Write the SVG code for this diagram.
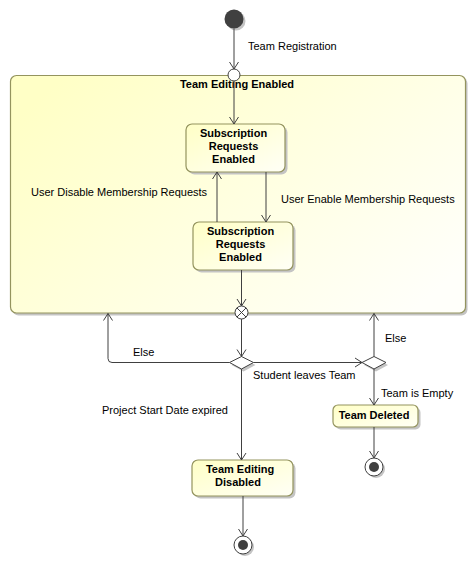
<svg xmlns="http://www.w3.org/2000/svg" width="475" height="565" viewBox="0 0 475 565">
<defs>
<linearGradient id="gc" x1="0" y1="0.2" x2="1" y2="0.8">
<stop offset="0" stop-color="#FFFFC6"/>
<stop offset="1" stop-color="#FFFFFA"/>
</linearGradient>
<linearGradient id="gs" x1="0" y1="0" x2="1" y2="1">
<stop offset="0" stop-color="#FFFFC6"/>
<stop offset="1" stop-color="#FFFFF6"/>
</linearGradient>
<marker id="arr" markerUnits="userSpaceOnUse" markerWidth="12" markerHeight="12" viewBox="-9 -6 12 12" refX="0" refY="0" orient="auto">
<path d="M-7,-4.5 L0,0 L-7,4.5" fill="none" stroke="#404040" stroke-width="1"/>
</marker>
</defs>
<style>
.st{fill:url(#gs);stroke:#94945E;stroke-width:1.2}
.sh{fill:#c4c4c4}
.t{font-family:"Liberation Sans",Arial,sans-serif;font-size:11px;fill:#000}
.b{font-family:"Liberation Sans",Arial,sans-serif;font-size:11px;font-weight:bold;fill:#000;text-anchor:middle}
.c{fill:none;stroke:#404040;stroke-width:1}
.pn{fill:#fff;stroke:#404040;stroke-width:1}
</style>

<g id="team-editing-enabled">
<rect class="sh" x="12.5" y="77.5" width="455" height="238" rx="6"/>
<rect x="10.5" y="75.5" width="455" height="237.5" rx="6" fill="url(#gc)" stroke="#94945E" stroke-width="1.2"/>
<text class="b" x="237" y="88">Team Editing Enabled</text>
</g>

<g id="initial">
<circle cx="236" cy="21" r="9.5" fill="#c4c4c4"/>
<circle cx="234" cy="19" r="9.5" fill="#404040"/>
</g>

<g id="entry">
<circle class="pn" cx="234" cy="75" r="6"/>
</g>

<g id="sub-enabled-1">
<rect class="sh" x="188.5" y="126.5" width="99" height="48" rx="6"/>
<rect class="st" x="186" y="124" width="99" height="48" rx="6"/>
<text class="b" x="233.5" y="137">Subscription</text>
<text class="b" x="233.5" y="150">Requests</text>
<text class="b" x="233.5" y="163">Enabled</text>
</g>

<g id="sub-enabled-2">
<rect class="sh" x="195.5" y="224.5" width="100" height="48" rx="6"/>
<rect class="st" x="193" y="222" width="100" height="48" rx="6"/>
<text class="b" x="240.5" y="235">Subscription</text>
<text class="b" x="240.5" y="248">Requests</text>
<text class="b" x="240.5" y="261">Enabled</text>
</g>

<g id="exit">
<circle class="pn" cx="241.5" cy="312.5" r="6.5"/>
<path class="c" d="M236.9,307.9 L246.1,317.1 M246.1,307.9 L236.9,317.1"/>
</g>

<g id="decision-1">
<path d="M243.5,359 L255.5,365 L243.5,371.5 L231.5,365 Z" fill="#c4c4c4"/>
<path class="pn" d="M241.5,356.5 L253.5,362.5 L241.5,369 L229.5,362.5 Z"/>
</g>

<g id="decision-2">
<path d="M376,359 L388,365 L376,371.5 L364,365 Z" fill="#c4c4c4"/>
<path class="pn" d="M374,356.5 L386,362.5 L374,369 L362,362.5 Z"/>
</g>

<g id="team-deleted">
<rect class="sh" x="335.5" y="407.5" width="85" height="22" rx="5"/>
<rect class="st" x="333" y="405" width="85" height="22" rx="5"/>
<text class="b" x="374" y="419">Team Deleted</text>
</g>

<g id="team-editing-disabled">
<rect class="sh" x="194.5" y="462.5" width="101" height="36" rx="6"/>
<rect class="st" x="192" y="460" width="101" height="36" rx="6"/>
<text class="b" x="240" y="473">Team Editing</text>
<text class="b" x="238" y="486">Disabled</text>
</g>

<g id="final-1">
<circle cx="376" cy="469" r="9" fill="#c4c4c4"/>
<circle class="pn" cx="374" cy="467" r="9"/>
<circle cx="374" cy="467" r="5" fill="#404040"/>
</g>

<g id="final-2">
<circle cx="245" cy="547" r="9" fill="#c4c4c4"/>
<circle class="pn" cx="243" cy="545" r="9"/>
<circle cx="243" cy="545" r="5" fill="#404040"/>
</g>

<g id="connectors">
<path class="c" d="M234,28.5 L234,69" marker-end="url(#arr)"/>
<path class="c" d="M234,81 L234,124" marker-end="url(#arr)"/>
<path class="c" d="M217,222 L217,172" marker-end="url(#arr)"/>
<path class="c" d="M266,172 L266,222" marker-end="url(#arr)"/>
<path class="c" d="M241.5,270 L241.5,306" marker-end="url(#arr)"/>
<path class="c" d="M241.5,319 L241.5,356.5" marker-end="url(#arr)"/>
<path class="c" d="M229.5,362.5 L112,362.5 Q108,362.5 108,358.5 L108,313.5" marker-end="url(#arr)"/>
<path class="c" d="M253.5,362.5 L362,362.5" marker-end="url(#arr)"/>
<path class="c" d="M374,356.5 L374,313.5" marker-end="url(#arr)"/>
<path class="c" d="M374,369 L374,405" marker-end="url(#arr)"/>
<path class="c" d="M374,427 L374,458" marker-end="url(#arr)"/>
<path class="c" d="M241.5,369 L241.5,460" marker-end="url(#arr)"/>
<path class="c" d="M243,496 L243,536" marker-end="url(#arr)"/>
<text class="t" x="248" y="50">Team Registration</text>
<text class="t" x="31" y="196">User Disable Membership Requests</text>
<text class="t" x="281" y="203">User Enable Membership Requests</text>
<text class="t" x="133" y="356">Else</text>
<text class="t" x="253" y="379">Student leaves Team</text>
<text class="t" x="385" y="342">Else</text>
<text class="t" x="381" y="397">Team is Empty</text>
<text class="t" x="102" y="414">Project Start Date expired</text>
</g>
</svg>
